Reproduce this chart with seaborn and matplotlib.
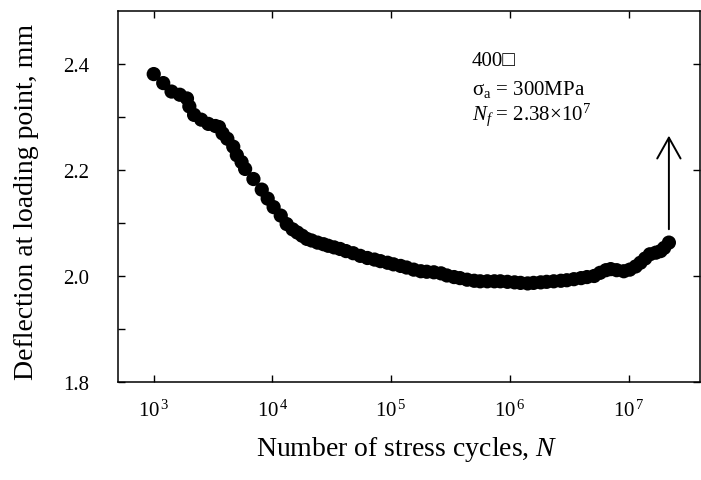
import numpy as np
import pandas as pd
import seaborn as sns
import matplotlib
matplotlib.use("Agg")
import matplotlib.pyplot as plt
from matplotlib.ticker import FixedLocator, NullLocator, FormatStrFormatter

# --- DATA ---
# exponent of the number of stress cycles, N = 10**exponent
log_cycles = [
    3.00, 3.08, 3.15, 3.22, 3.28, 3.30, 3.34, 3.40, 3.46, 3.52, 3.55, 3.58,
    3.62, 3.67, 3.70, 3.74, 3.77, 3.84, 3.91, 3.96, 4.01, 4.07, 4.12, 4.17,
    4.21, 4.25, 4.29, 4.33, 4.38, 4.43, 4.47, 4.52, 4.57, 4.62, 4.68, 4.74,
    4.80, 4.86, 4.91, 4.97, 5.02, 5.08, 5.13, 5.19, 5.25, 5.30, 5.36, 5.42,
    5.47, 5.53, 5.58, 5.64, 5.70, 5.75, 5.81, 5.87, 5.92, 5.98, 6.04, 6.09,
    6.15, 6.20, 6.26, 6.31, 6.37, 6.43, 6.48, 6.54, 6.60, 6.65, 6.71, 6.76,
    6.81, 6.85, 6.90, 6.96, 7.01, 7.06, 7.10, 7.14, 7.18, 7.23, 7.27, 7.30,
    7.34,
]
deflection = [
    2.381, 2.364, 2.348, 2.342, 2.335, 2.320, 2.304, 2.295, 2.287, 2.283, 2.281, 2.269,
    2.259, 2.244, 2.228, 2.215, 2.202, 2.183, 2.163, 2.146, 2.130, 2.114, 2.098, 2.088,
    2.082, 2.076, 2.070, 2.067, 2.063, 2.060, 2.057, 2.054, 2.051, 2.047, 2.043, 2.038,
    2.034, 2.031, 2.028, 2.025, 2.022, 2.019, 2.016, 2.012, 2.009, 2.008, 2.007, 2.005,
    2.001, 1.998, 1.996, 1.993, 1.991, 1.990, 1.990, 1.990, 1.990, 1.989, 1.988, 1.987,
    1.986, 1.987, 1.988, 1.989, 1.990, 1.991, 1.992, 1.994, 1.996, 1.998, 2.000, 2.006,
    2.011, 2.013, 2.011, 2.009, 2.012, 2.018, 2.025, 2.033, 2.041, 2.044, 2.047, 2.053,
    2.063,
]

x_ticks = [1e3, 1e4, 1e5, 1e6, 1e7]
x_ticklabels = [r"10$^{\,3}$", r"10$^{\,4}$", r"10$^{\,5}$", r"10$^{\,6}$", r"10$^{\,7}$"]
y_major = [1.8, 2.0, 2.2, 2.4]
y_minor = [1.9, 2.1, 2.3]

info_lines = ["400\u25a1", "\u03c3$_{\\rm a}$ = 300MPa", "$N_f$ = 2.38\u00d710$^{7}$"]

df = pd.DataFrame({"N": np.power(10.0, log_cycles), "deflection": deflection})


def main():
    sns.set_theme(style="ticks")
    plt.rcParams["font.family"] = ["Liberation Serif", "DejaVu Sans"]
    plt.rcParams["mathtext.fontset"] = "custom"
    plt.rcParams["mathtext.rm"] = "Liberation Serif"
    plt.rcParams["mathtext.it"] = "Liberation Serif:italic"
    plt.rcParams["mathtext.bf"] = "Liberation Serif:bold"
    for key in ["text.color", "axes.labelcolor", "xtick.color", "ytick.color",
                "xtick.labelcolor", "ytick.labelcolor", "axes.edgecolor"]:
        plt.rcParams[key] = "black"

    fig = plt.figure(figsize=(7.01, 4.81), dpi=100)
    ax = fig.add_axes([118 / 701, 1 - 383 / 481, 582 / 701, 371 / 481])

    sns.scatterplot(data=df, x="N", y="deflection", color="black",
                    s=105, linewidth=0, edgecolor="none", ax=ax, zorder=3)

    ax.set_xscale("log")
    ax.set_xlim(500, 4.0e7)
    ax.set_ylim(1.8, 2.5)

    ax.xaxis.set_major_locator(FixedLocator(x_ticks))
    ax.xaxis.set_minor_locator(NullLocator())
    ax.set_xticklabels(x_ticklabels)
    ax.yaxis.set_major_locator(FixedLocator(y_major))
    ax.yaxis.set_minor_locator(FixedLocator(y_minor))
    ax.yaxis.set_major_formatter(FormatStrFormatter("%.1f"))

    for s in ax.spines.values():
        s.set_linewidth(1.1)
        s.set_color("black")

    ax.tick_params(which="both", direction="in", length=5, width=1.0,
                   color="black", top=True, right=True, labelsize=15)
    ax.tick_params(which="minor", right=False)
    ax.tick_params(axis="x", pad=13)
    ax.tick_params(axis="y", pad=21)

    ax.set_xlabel("Number of stress cycles, $N$", fontsize=20)
    ax.set_ylabel("Deflection at loading point, mm", fontsize=20)
    ax.xaxis.set_label_coords(0.497, -0.14)
    ax.yaxis.set_label_coords(-0.135, 0.489)

    # annotation block
    for txt, yb in zip(info_lines, [0.854, 0.776, 0.709]):
        ax.text(0.608, yb, txt, transform=ax.transAxes, fontsize=15,
                va="baseline", ha="left")

    # arrow above the last (failure) point
    x_end = df["N"].iloc[-1]
    y_end = df["deflection"].iloc[-1]
    ax.annotate("", xy=(x_end, 2.27), xytext=(x_end, y_end + 0.02),
                arrowprops=dict(arrowstyle="->,head_width=0.42,head_length=0.75",
                                mutation_scale=20, lw=1.4, color="black"))

    fig.savefig("out.png", dpi=100, facecolor="white")
    plt.close(fig)


if __name__ == "__main__":
    main()
